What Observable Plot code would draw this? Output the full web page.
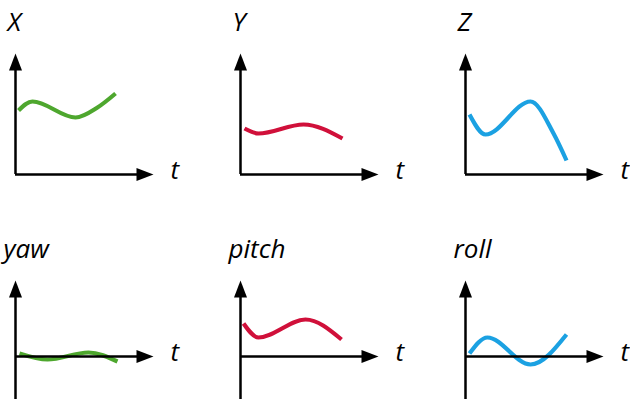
<!DOCTYPE html>
<html>
<head>
<meta charset="utf-8">
<script src="https://cdn.jsdelivr.net/npm/d3@7"></script>
<script src="https://cdn.jsdelivr.net/npm/@observablehq/plot@0.6"></script>
<style>
  html, body { margin: 0; padding: 0; background: #fff; }
  #wrap { position: relative; width: 630px; height: 399px; overflow: hidden; }
  #wrap > div, #wrap > svg { position: absolute; }
</style>
</head>
<body>
<div id="wrap"></div>
<script>
// ---- data ----
const labels = ["X", "Y", "Z", "yaw", "pitch", "roll"];
const axisLabel = "t";
const tMax = 10;

const tX = [0.22, 1.23, 4.35, 5.94, 7.25];
const vX = [6.4, 7.3, 5.7, 6.7, 8.1];

const tY = [0.29, 1.3, 4.57, 7.39];
const vY = [4.6, 4.1, 5.0, 3.6];

const tZ = [0.29, 1.45, 4.71, 6.38, 7.32];
const vZ = [6.0, 4.0, 7.3, 4.1, 1.4];

const tYaw = [0.29, 2.32, 5.29, 7.39];
const vYaw = [0.3, -0.3, 0.4, -0.5];

const tPitch = [0.22, 1.3, 4.71, 7.32];
const vPitch = [3.3, 1.9, 3.7, 1.7];

const tRoll = [0.29, 1.59, 4.71, 7.32];
const vRoll = [0.3, 1.9, -0.8, 2.2];

const series = [
  [tX, vX], [tY, vY], [tZ, vZ],
  [tYaw, vYaw], [tPitch, vPitch], [tRoll, vRoll]
];

// ---- styles / layout ----
const colors = ["#4ea72e", "#d0103a", "#1ba1e2", "#4ea72e", "#d0103a", "#1ba1e2"];
const font = "'Open Sans', 'Noto Sans', sans-serif";

const arrowUp = { draw(ctx) { ctx.moveTo(0, 0); ctx.lineTo(6.5, 17); ctx.lineTo(-6.5, 17); ctx.closePath(); } };
const arrowRight = { draw(ctx) { ctx.moveTo(0, 0); ctx.lineTo(-17, -6.5); ctx.lineTo(-17, 6.5); ctx.closePath(); } };

const rows = [
  { top: 0, height: 220, marginTop: 53, marginBottom: 46, domain: [0, 12.1], titleDx: -8 },
  { top: 220, height: 179, marginTop: 60, marginBottom: 0, domain: [-4.3, 7.6], titleDx: -12 }
];
const colLeft = [0, 225, 450];

const wrap = document.getElementById("wrap");

labels.forEach((label, i) => {
  const row = rows[Math.floor(i / 3)];
  const [ts, vs] = series[i];
  const data = ts.map((t, k) => ({ t, v: vs[k] }));
  const [yMin, yMax] = row.domain;
  const base = Math.max(0, yMin); // where the t axis sits

  const plot = Plot.plot({
    width: 180,
    height: row.height,
    marginLeft: 15,
    marginRight: 27,
    marginTop: row.marginTop,
    marginBottom: row.marginBottom,
    x: { domain: [0, tMax], axis: null },
    y: { domain: row.domain, axis: null },
    style: { background: "transparent", overflow: "visible" },
    marks: [
      Plot.line(data, {
        x: "t", y: "v", curve: "monotone-x",
        stroke: colors[i], strokeWidth: 4.2, strokeLinecap: "butt"
      }),
      Plot.ruleX([0], { y1: yMin, y2: yMax - 0.6, stroke: "black", strokeWidth: 2.5 }),
      Plot.ruleY([base], { x1: 0, x2: tMax - 0.6, stroke: "black", strokeWidth: 2.5 }),
      Plot.dot([{ t: 0, v: yMax }], { x: "t", y: "v", symbol: arrowUp, fill: "black", stroke: null, r: 5 }),
      Plot.dot([{ t: tMax, v: base }], { x: "t", y: "v", symbol: arrowRight, fill: "black", stroke: null, r: 5 }),
      Plot.text([label], {
        frameAnchor: "top-left", dx: row.titleDx, dy: -23,
        lineAnchor: "bottom", textAnchor: "start",
        fontSize: 26, fontStyle: "italic", fontFamily: font, fill: "black"
      }),
      Plot.text([axisLabel], {
        x: tMax, y: base, dx: 17, dy: 4,
        lineAnchor: "bottom", textAnchor: "start",
        fontSize: 26, fontStyle: "italic", fontFamily: font, fill: "black"
      })
    ]
  });
  plot.style.left = colLeft[i % 3] + "px";
  plot.style.top = row.top + "px";
  wrap.appendChild(plot);
});
</script>
</body>
</html>
